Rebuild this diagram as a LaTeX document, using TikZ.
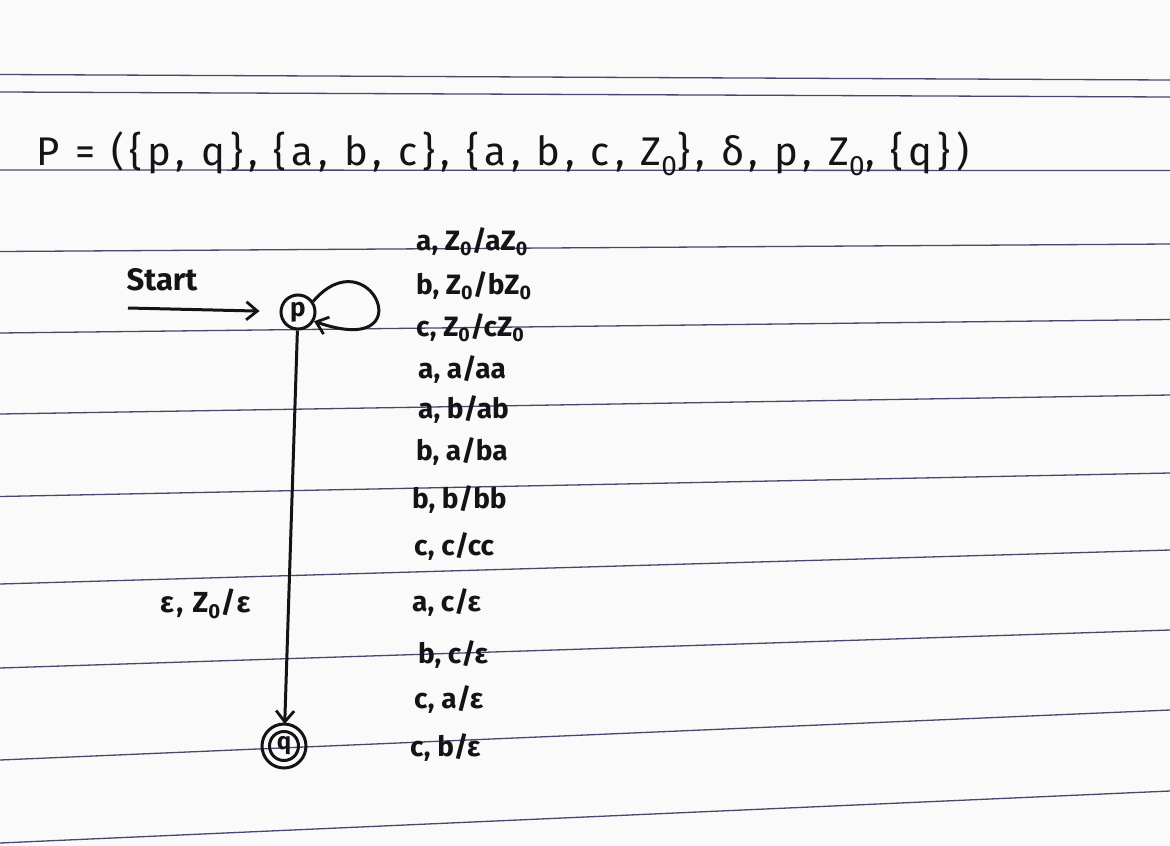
\documentclass[tikz,border=0pt]{standalone}
\usepackage{fontspec}
\setmainfont{Fira Sans}
\usetikzlibrary{arrows.meta}
\definecolor{paper}{RGB}{250,250,250}
\definecolor{ink}{RGB}{20,20,22}
\definecolor{ruling}{RGB}{70,72,110}
\tikzset{
  ruleline/.style={draw=ruling, line width=1.3pt},
  hand/.style={text=ink, inner sep=0pt},
  labeltext/.style={hand, anchor=west, font=\fontsize{28}{30}\selectfont\bfseries},
  statenode/.style={circle, draw=ink, line width=3pt, minimum size=34pt, inner sep=0pt, text=ink, font=\fontsize{26}{28}\selectfont\bfseries},
  acceptnode/.style={circle, draw=ink, line width=3pt, minimum size=29pt, inner sep=0pt, text=ink, font=\fontsize{24}{26}\selectfont\bfseries},
  arr/.style={draw=ink, line width=3pt, -{Straight Barb[length=11pt, width=18pt, line width=2.8pt]}}
}
\begin{document}
\begin{tikzpicture}[x=1pt, y=-1pt]
\fill[paper] (0,0) rectangle (1170,846);
\useasboundingbox (0,0) rectangle (1170,846);
% ruled paper lines
\foreach \a/\b in {74.5/80, 92/97, 170/170.5, 251.5/244, 333/319.5, 414/395, 496.5/473, 584/550, 668/630, 760/710, 843/791}
  \draw[ruleline] (0,\a) -- (1170,\b);
% title
\node[hand, anchor=west, font=\fontsize{40}{42}\selectfont\addfontfeature{LetterSpace=13}] (title) at (36,154)
  {P = (\{p, q\}, \{a, b, c\}, \{a, b, c, Z\textsubscript{0}\}, δ, p, Z\textsubscript{0}, \{q\})};
% states
\node[statenode] (p) at (298,312) {p};
\node[acceptnode] (q) at (284,746) {q};
\draw[ink, line width=3pt] (q.center) circle[radius=22];
% start
\node[hand, font=\fontsize{31}{33}\selectfont\bfseries] (start) at (162,280) {Start};
\coordinate (s) at (128,308);
\draw[arr, shorten >=20pt] (s) -- (p);
% p -> q
\draw[arr, shorten >=22pt] (p) -- (q.center);
\node[labeltext, font=\fontsize{29}{31}\selectfont\bfseries\addfontfeature{LetterSpace=8}] (eps) at (160,604) {ε, Z\textsubscript{0}/ε};
% self loop
\draw[arr] (p.35) .. controls (370,235) and (425,360) .. (p.-30);
% loop labels
\node[labeltext] (l1) at (416,242) {a, Z\textsubscript{0}/aZ\textsubscript{0}};
\node[labeltext] (l2) at (416,286) {b, Z\textsubscript{0}/bZ\textsubscript{0}};
\node[labeltext] (l3) at (416,328) {c, Z\textsubscript{0}/cZ\textsubscript{0}};
\node[labeltext] (l4) at (418,370) {a, a/aa};
\node[labeltext] (l5) at (418,410) {a, b/ab};
\node[labeltext] (l6) at (416,452) {b, a/ba};
\node[labeltext] (l7) at (412,500) {b, b/bb};
\node[labeltext] (l8) at (414,547) {c, c/cc};
\node[labeltext] (l9) at (412,603) {a, c/ε};
\node[labeltext] (l10) at (418,655) {b, c/ε};
\node[labeltext] (l11) at (414,700) {c, a/ε};
\node[labeltext] (l12) at (410,748) {c, b/ε};
\end{tikzpicture}
\end{document}
